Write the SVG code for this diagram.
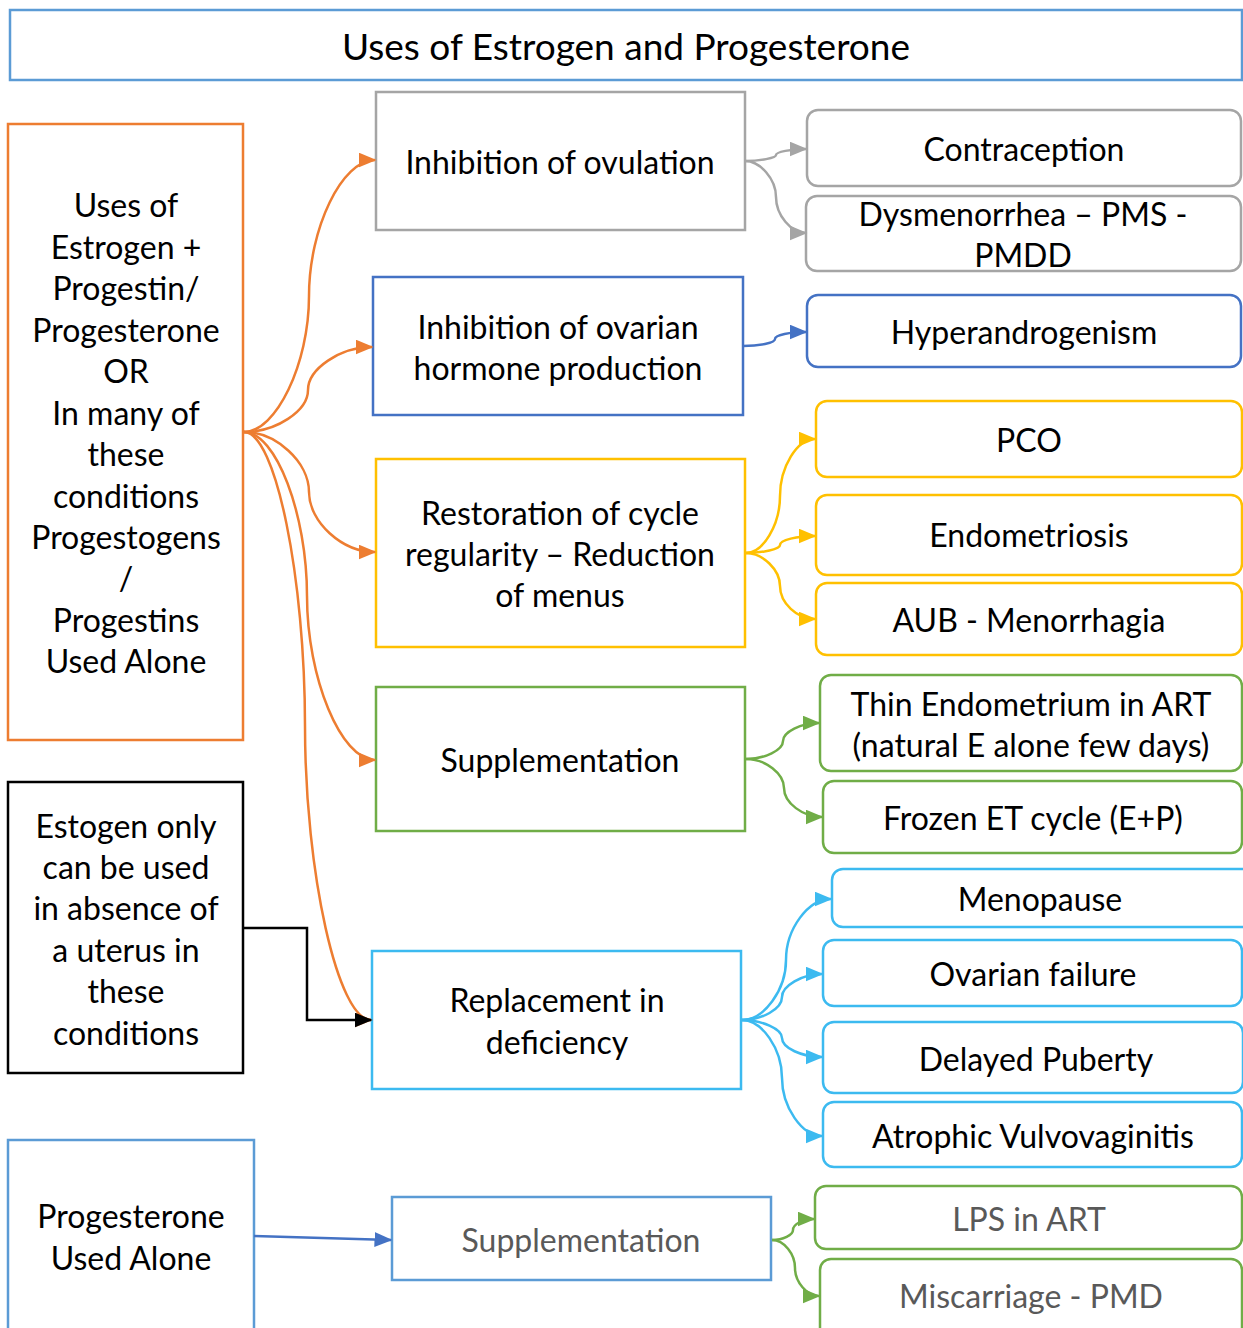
<svg xmlns="http://www.w3.org/2000/svg" width="1243" height="1328" viewBox="0 0 1243 1328">
  <style>
    text { font-family: Lato, "Liberation Sans", sans-serif; font-size: 32px; fill: #000; text-anchor: middle; dominant-baseline: central; }
    .title { font-size: 37px; }
    .muted { fill: #595959; }
    rect { fill: #fff; stroke-width: 2.5; }
    .rnd { rx: 11; ry: 11; }
    .gray { stroke: #a5a5a5; }
    .blue { stroke: #4472c4; }
    .lblue { stroke: #5b9bd5; }
    .yel { stroke: #ffc000; }
    .grn { stroke: #70ad47; }
    .cyan { stroke: #3cbaf0; }
    .org { stroke: #ed7d31; }
    .blk { stroke: #000; }
    .wire { fill: none; stroke-width: 2.5; }
  </style>
  <defs>
    <marker id="ah-org" viewBox="0 0 12 10" refX="11" refY="5" markerWidth="7.2" markerHeight="6" markerUnits="strokeWidth" orient="auto"><path d="M0,0 L12,5 L0,10 z" fill="#ed7d31"/></marker>
    <marker id="ah-gray" viewBox="0 0 12 10" refX="11" refY="5" markerWidth="7.2" markerHeight="6" markerUnits="strokeWidth" orient="auto"><path d="M0,0 L12,5 L0,10 z" fill="#a5a5a5"/></marker>
    <marker id="ah-blue" viewBox="0 0 12 10" refX="11" refY="5" markerWidth="7.2" markerHeight="6" markerUnits="strokeWidth" orient="auto"><path d="M0,0 L12,5 L0,10 z" fill="#4472c4"/></marker>
    <marker id="ah-yel" viewBox="0 0 12 10" refX="11" refY="5" markerWidth="7.2" markerHeight="6" markerUnits="strokeWidth" orient="auto"><path d="M0,0 L12,5 L0,10 z" fill="#ffc000"/></marker>
    <marker id="ah-grn" viewBox="0 0 12 10" refX="11" refY="5" markerWidth="7.2" markerHeight="6" markerUnits="strokeWidth" orient="auto"><path d="M0,0 L12,5 L0,10 z" fill="#70ad47"/></marker>
    <marker id="ah-cyan" viewBox="0 0 12 10" refX="11" refY="5" markerWidth="7.2" markerHeight="6" markerUnits="strokeWidth" orient="auto"><path d="M0,0 L12,5 L0,10 z" fill="#3cbaf0"/></marker>
    <marker id="ah-blk" viewBox="0 0 12 10" refX="11" refY="5" markerWidth="7.2" markerHeight="6" markerUnits="strokeWidth" orient="auto"><path d="M0,0 L12,5 L0,10 z" fill="#000"/></marker>
  </defs>

  <rect width="1243" height="1328" style="fill:#fff;stroke:none"/>

  <!-- title -->
  <g id="title">
    <rect class="lblue" x="10" y="10" width="1232" height="70"/>
    <text class="title" x="626" y="45">Uses of Estrogen and Progesterone</text>
  </g>

  <!-- left column -->
  <g id="combined-uses">
    <rect class="org" x="8" y="124" width="235" height="616"/>
    <text x="126" y="204">Uses of</text>
    <text x="126" y="246">Estrogen +</text>
    <text x="126" y="287">Progestin/</text>
    <text x="126" y="329">Progesterone</text>
    <text x="126" y="370">OR</text>
    <text x="126" y="412">In many of</text>
    <text x="126" y="453">these</text>
    <text x="126" y="495">conditions</text>
    <text x="126" y="536">Progestogens</text>
    <text x="126" y="577">/</text>
    <text x="126" y="619">Progestins</text>
    <text x="126" y="660">Used Alone</text>
  </g>
  <g id="estrogen-only">
    <rect class="blk" x="8" y="782" width="235" height="291"/>
    <text x="126" y="825">Estogen only</text>
    <text x="126" y="866">can be used</text>
    <text x="126" y="907">in absence of</text>
    <text x="126" y="949">a uterus in</text>
    <text x="126" y="990">these</text>
    <text x="126" y="1032">conditions</text>
  </g>
  <g id="progesterone-alone">
    <rect class="lblue" x="8" y="1140" width="246" height="210"/>
    <text x="131" y="1215">Progesterone</text>
    <text x="131" y="1257">Used Alone</text>
  </g>

  <!-- middle column -->
  <g id="inhibit-ovulation">
    <rect class="gray" x="376" y="92" width="369" height="138"/>
    <text x="560" y="161">Inhibition of ovulation</text>
  </g>
  <g id="inhibit-hormones">
    <rect class="blue" x="373" y="277" width="370" height="138"/>
    <text x="558" y="326">Inhibition of ovarian</text>
    <text x="558" y="367">hormone production</text>
  </g>
  <g id="restore-cycle">
    <rect class="yel" x="376" y="459" width="369" height="188"/>
    <text x="560" y="512">Restoration of cycle</text>
    <text x="560" y="553">regularity – Reduction</text>
    <text x="560" y="594">of menus</text>
  </g>
  <g id="supplementation">
    <rect class="grn" x="376" y="687" width="369" height="144"/>
    <text x="560" y="759">Supplementation</text>
  </g>
  <g id="replacement">
    <rect class="cyan" x="372" y="951" width="369" height="138"/>
    <text x="557" y="999">Replacement in</text>
    <text x="557" y="1041">deficiency</text>
  </g>
  <g id="supplementation-p">
    <rect class="lblue" x="392" y="1197" width="379" height="83"/>
    <text class="muted" x="581" y="1239">Supplementation</text>
  </g>

  <!-- right column -->
  <g id="contraception">
    <rect class="gray rnd" x="807" y="110" width="434" height="76"/>
    <text x="1024" y="148">Contraception</text>
  </g>
  <g id="dysmenorrhea">
    <rect class="gray rnd" x="806" y="196" width="435" height="75"/>
    <text x="1023" y="213">Dysmenorrhea – PMS -</text>
    <text x="1023" y="254">PMDD</text>
  </g>
  <g id="hyperandrogenism">
    <rect class="blue rnd" x="807" y="295" width="434" height="72"/>
    <text x="1024" y="331">Hyperandrogenism</text>
  </g>
  <g id="pco">
    <rect class="yel rnd" x="816" y="401" width="426" height="76"/>
    <text x="1029" y="439">PCO</text>
  </g>
  <g id="endometriosis">
    <rect class="yel rnd" x="816" y="495" width="426" height="80"/>
    <text x="1029" y="534">Endometriosis</text>
  </g>
  <g id="aub">
    <rect class="yel rnd" x="816" y="583" width="426" height="72"/>
    <text x="1029" y="619">AUB - Menorrhagia</text>
  </g>
  <g id="thin-endometrium">
    <rect class="grn rnd" x="820" y="675" width="422" height="96"/>
    <text x="1031" y="703">Thin Endometrium in ART</text>
    <text x="1031" y="744">(natural E alone few days)</text>
  </g>
  <g id="frozen-et">
    <rect class="grn rnd" x="823" y="781" width="419" height="72"/>
    <text x="1033" y="817">Frozen ET cycle (E+P)</text>
  </g>
  <g id="menopause">
    <rect class="cyan rnd" x="832" y="869" width="430" height="58"/>
    <text x="1040" y="898">Menopause</text>
  </g>
  <g id="ovarian-failure">
    <rect class="cyan rnd" x="823" y="940" width="419" height="66"/>
    <text x="1033" y="973">Ovarian failure</text>
  </g>
  <g id="delayed-puberty">
    <rect class="cyan rnd" x="823" y="1022" width="420" height="71"/>
    <text x="1036" y="1058">Delayed Puberty</text>
  </g>
  <g id="atrophic">
    <rect class="cyan rnd" x="823" y="1102" width="419" height="65"/>
    <text x="1033" y="1135">Atrophic Vulvovaginitis</text>
  </g>
  <g id="lps">
    <rect class="grn rnd" x="815" y="1186" width="427" height="63"/>
    <text class="muted" x="1029" y="1218">LPS in ART</text>
  </g>
  <g id="miscarriage">
    <rect class="grn rnd" x="820" y="1259" width="422" height="90"/>
    <text class="muted" x="1031" y="1295">Miscarriage - PMD</text>
  </g>

  <!-- connectors: S-curves split at the midpoint column -->
  <g id="connectors">
    <!-- combined uses fan-out -->
    <path class="wire org" marker-end="url(#ah-org)" d="M244,432 C276,432 309,364 309,296 C309,228 342,160 375,160"/>
    <path class="wire org" marker-end="url(#ah-org)" d="M244,432 C276,432 308,411 308,390 C308,369 340,347 372,347"/>
    <path class="wire org" marker-end="url(#ah-org)" d="M244,432 C276,432 309,462 309,492 C309,522 342,552 375,552"/>
    <path class="wire org" marker-end="url(#ah-org)" d="M244,432 C276,432 307,514 307,596 C307,678 341,760 375,760"/>
    <path class="wire org" marker-end="url(#ah-org)" d="M244,432 C276,432 305,579 305,726 C305,873 338,1020 371,1020"/>

    <!-- estrogen only -->
    <path class="wire blk" marker-end="url(#ah-blk)" d="M243,928 H307 V1020 H371"/>

    <!-- progesterone alone -->
    <path class="wire blue" marker-end="url(#ah-blue)" d="M254,1236 L391,1240"/>

    <!-- inhibition of ovulation -->
    <path class="wire gray" marker-end="url(#ah-gray)" d="M745,161 C760,161 776,158 776,155 C776,152 791,149 806,149"/>
    <path class="wire gray" marker-end="url(#ah-gray)" d="M745,161 C760,161 776,179 776,197 C776,215 791,233 806,233"/>

    <!-- hormone production -->
    <path class="wire blue" marker-end="url(#ah-blue)" d="M743,346 C759,346 775,343 775,339 C775,335 790,332 806,332"/>

    <!-- cycle regularity -->
    <path class="wire yel" marker-end="url(#ah-yel)" d="M746,553 C763,553 780,525 780,496 C780,467 797,439 815,439"/>
    <path class="wire yel" marker-end="url(#ah-yel)" d="M746,553 C763,553 780,549 780,545 C780,540 797,536 815,536"/>
    <path class="wire yel" marker-end="url(#ah-yel)" d="M746,553 C763,553 780,570 780,586 C780,603 797,619 815,619"/>

    <!-- supplementation -->
    <path class="wire grn" marker-end="url(#ah-grn)" d="M746,759 C765,759 783,750 783,741 C783,732 801,723 819,723"/>
    <path class="wire grn" marker-end="url(#ah-grn)" d="M746,759 C766,759 784,774 784,788 C784,803 803,817 822,817"/>

    <!-- replacement -->
    <path class="wire cyan" marker-end="url(#ah-cyan)" d="M742,1020 C764,1020 786,990 786,960 C786,929 808,899 831,899"/>
    <path class="wire cyan" marker-end="url(#ah-cyan)" d="M742,1020 C762,1020 782,1009 782,997 C782,986 802,974 822,974"/>
    <path class="wire cyan" marker-end="url(#ah-cyan)" d="M742,1020 C762,1020 782,1029 782,1038 C782,1048 802,1057 822,1057"/>
    <path class="wire cyan" marker-end="url(#ah-cyan)" d="M742,1020 C762,1020 782,1049 782,1078 C782,1107 802,1136 822,1136"/>

    <!-- progesterone supplementation -->
    <path class="wire grn" marker-end="url(#ah-grn)" d="M772,1240 C783,1240 793,1235 793,1230 C793,1224 803,1219 814,1219"/>
    <path class="wire grn" marker-end="url(#ah-grn)" d="M772,1240 C784,1240 795,1254 795,1268 C795,1282 807,1296 819,1296"/>
  </g>
</svg>
